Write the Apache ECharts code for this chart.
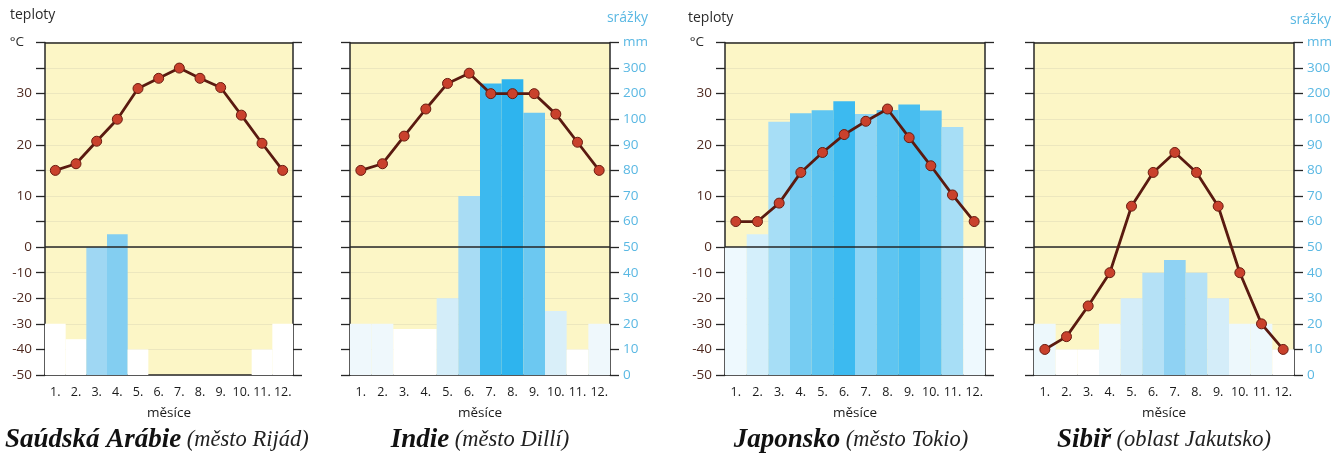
<!DOCTYPE html>
<html>
<head>
<meta charset="utf-8">
<script src="https://cdn.jsdelivr.net/npm/echarts@6/dist/echarts.min.js"></script>
<style>
html,body{margin:0;padding:0;background:#fff;}
#c{width:1343px;height:456px;}
</style>
</head>
<body>
<div id="c"></div>
<script>
// ---------- DATA ----------
const months = ['1.','2.','3.','4.','5.','6.','7.','8.','9.','10.','11.','12.'];
const tempTickLabels = ['-50','-40','-30','-20','-10','0','','10','','20','','30','','°C'];
const precTickLabels = ['0','10','20','30','40','50','60','70','80','90','100','200','300','mm'];

const regionNames = ['Saúdská Arábie','Indie','Japonsko','Sibiř'];
const placeNames = ['(město Rijád)','(město Dillí)','(město Tokio)','(oblast Jakutsko)'];

const tempSaudi = [15, 16.3, 20.7, 25, 31, 33, 35, 33, 31.2, 25.8, 20.3, 15];
const precSaudi = [20, 14, 50, 55, 10, 0, 0, 0, 0, 0, 10, 20];
const tempIndie = [15, 16.3, 21.7, 27, 32, 34, 30, 30, 30, 26, 20.5, 15];
const precIndie = [20, 20, 18, 18, 30, 70, 240, 256, 125, 25, 10, 20];
const tempJapan = [5, 5, 8.6, 14.6, 18.5, 22, 24.6, 27, 21.4, 15.9, 10.2, 5];
const precJapan = [50, 55, 99, 123, 135, 170, 120, 136, 158, 134, 97, 50];
const tempSibir = [-40, -35, -23, -10, 8, 14.6, 18.5, 14.6, 8, -10, -30, -40];
const precSibir = [20, 10, 10, 20, 30, 40, 45, 40, 30, 20, 20, 10];

const temps = [tempSaudi, tempIndie, tempJapan, tempSibir];
const precs = [precSaudi, precIndie, precJapan, precSibir];

// ---------- STYLE ----------
const shadeSaudi = [{lt:25,color:'#ffffff'},{gte:25,lt:52,color:'#9fd7f3'},{gte:52,color:'#83cef1'}];
const shadeIndie = [{lt:19,color:'#ffffff'},{gte:19,lt:22,color:'#eff8fc'},{gte:22,lt:28,color:'#d9eff9'},
  {gte:28,lt:50,color:'#d3edf9'},{gte:50,lt:100,color:'#a8dcf4'},{gte:100,lt:200,color:'#6cc8f1'},
  {gte:200,lt:250,color:'#3cb9ef'},{gte:250,color:'#2eb4ee'}];
const shadeJapan = [{lt:52,color:'#eef9fe'},{gte:52,lt:80,color:'#d4effb'},{gte:80,lt:110,color:'#a7def6'},
  {gte:110,lt:122,color:'#8ed5f5'},{gte:122,lt:130,color:'#76ccf2'},{gte:130,lt:150,color:'#5ec5f1'},
  {gte:150,lt:165,color:'#48bef0'},{gte:165,color:'#3cbaf0'}];
const shadeSibir = [{lt:15,color:'#ffffff'},{gte:15,lt:25,color:'#edf8fc'},{gte:25,lt:35,color:'#d4edf9'},
  {gte:35,lt:42,color:'#b5e1f6'},{gte:42,color:'#8fd2f3'}];
const shades = [shadeSaudi, shadeIndie, shadeJapan, shadeSibir];

const grids = [
  {left:45, width:248},
  {left:350, width:260},
  {left:725, width:260},
  {left:1034, width:260}
];
const TOP = 42.5, H = 332.5;
const yellow = '#fcf6c6';
const dark = '#262626';
const sans = "'Open Sans', 'Noto Sans', sans-serif";
const serif = "'Liberation Serif', 'DejaVu Serif', serif";

// nonlinear climate-diagram scales (axis units 0..13)
function tempToUnit(t){ return t <= 0 ? (t + 50) / 10 : 5 + t / 5; }
function precToUnit(p){ return p <= 100 ? p / 10 : 10 + (p - 100) / 100; }

const chart = echarts.init(document.getElementById('c'), null, {renderer:'canvas'});

const option = {
  animation:false,
  backgroundColor:'#ffffff',
  grid:[], xAxis:[], yAxis:[], series:[], visualMap:[], title:[]
};

for (let i = 0; i < 4; i++) {
  option.grid.push({left:grids[i].left, width:grids[i].width, top:TOP, height:H,
    show:true, backgroundColor:yellow, borderWidth:0});
  option.xAxis.push({
    gridIndex:i, type:'category', data:months, boundaryGap:true,
    axisLine:{show:true, lineStyle:{color:dark, width:1.5}},
    axisTick:{show:false},
    axisLabel:{interval:0, color:'#1a1a1a', fontFamily:sans, fontSize:12.5, margin:11},
    name:'měsíce', nameLocation:'middle', nameGap:31,
    nameTextStyle:{color:'#1a1a1a', fontFamily:sans, fontSize:13.5}
  });
  option.yAxis.push({
    gridIndex:i, type:'value', min:0, max:13, interval:1, position:'left',
    axisLine:{show:true, lineStyle:{color:dark, width:1.5}},
    axisTick:{show:true, inside:false, length:9, lineStyle:{color:dark, width:1.3}},
    axisLabel:{show:(i===0||i===2), color:'#4f2a20', fontFamily:sans, fontSize:13.5, margin:13,
      formatter:function(v){
        const s = tempTickLabels[Math.round(v)] || '';
        return Math.round(v) === 13 ? '{u|' + s + '}' : s;
      },
      rich:{u:{fontFamily:sans, fontSize:13.5, color:'#2a2a2a', padding:[0,8,0,0]}}},
    splitLine:{show:true, lineStyle:{color:'rgba(140,140,140,0.14)', width:1}}
  });
  option.yAxis.push({
    gridIndex:i, type:'value', min:0, max:13, interval:1, position:'right',
    axisLine:{show:true, lineStyle:{color:dark, width:1.5}},
    axisTick:{show:true, inside:false, length:9, lineStyle:{color:dark, width:1.3}},
    axisLabel:{show:(i===1||i===3), color:'#5ab8e3', fontFamily:sans, fontSize:13.5, margin:13,
      formatter:function(v){ return precTickLabels[Math.round(v)] || ''; }},
    splitLine:{show:false}
  });
  const barIdx = option.series.length;
  option.series.push({
    type:'bar', xAxisIndex:i, yAxisIndex:2*i+1,
    data: precs[i].map(function(p,k){ return [k, precToUnit(p), p]; }),
    encode:{x:0, y:1},
    barCategoryGap:'0%', barGap:'0%', z:2,
    itemStyle:{borderWidth:0},
    markLine:{silent:true, symbol:'none', label:{show:false},
      lineStyle:{color:dark, width:1.6, type:'solid'},
      data:[{yAxis:5},{yAxis:13}]}
  });
  option.visualMap.push({type:'piecewise', show:false, seriesIndex:barIdx, dimension:2, pieces:shades[i]});
  option.series.push({
    type:'line', xAxisIndex:i, yAxisIndex:2*i, z:5,
    data: temps[i].map(tempToUnit),
    symbol:'circle', symbolSize:10,
    lineStyle:{color:'#5a1a10', width:2.8},
    itemStyle:{color:'#c9412c', borderColor:'#6a1c10', borderWidth:1}
  });
}

// axis headings
option.title.push({text:'teploty', left:10, top:8, padding:0,
  textStyle:{fontFamily:sans, fontSize:14, fontWeight:'normal', color:'#2b2b2b'}});
option.title.push({text:'srážky', left:648, top:11, padding:0, textAlign:'right',
  textStyle:{fontFamily:sans, fontSize:14, fontWeight:'normal', color:'#5ab8e3'}});
option.title.push({text:'teploty', left:688, top:11, padding:0,
  textStyle:{fontFamily:sans, fontSize:14, fontWeight:'normal', color:'#2b2b2b'}});
option.title.push({text:'srážky', left:1331, top:13, padding:0, textAlign:'right',
  textStyle:{fontFamily:sans, fontSize:14, fontWeight:'normal', color:'#5ab8e3'}});

// chart names
const nameLeft = [5, 480, 851, 1164];
const nameAlign = ['left','center','center','center'];
for (let i = 0; i < 4; i++) {
  option.title.push({
    text:'{b|' + regionNames[i] + '} {i|' + placeNames[i] + '}',
    left:nameLeft[i], top:427, padding:0, textAlign:nameAlign[i],
    textStyle:{fontSize:22, fontFamily:serif, fontStyle:'italic', fontWeight:'normal', color:'#1a1a1a',
      rich:{
        b:{fontFamily:serif, fontWeight:'bold', fontStyle:'italic', fontSize:27, color:'#111'},
        i:{fontFamily:serif, fontWeight:'normal', fontStyle:'italic', fontSize:22.5, color:'#222'}
      }}
  });
}

chart.setOption(option);
</script>
</body>
</html>
